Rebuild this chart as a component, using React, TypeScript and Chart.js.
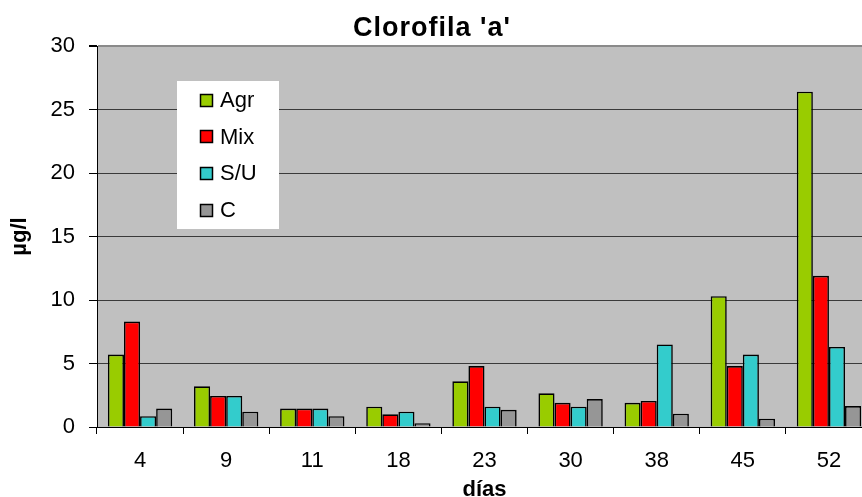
import React, { useEffect, useRef } from "react";
import { Chart, registerables } from "chart.js";

Chart.register(...registerables);

// ---- data ----
const categories = ["4", "9", "11", "18", "23", "30", "38", "45", "52"];
const agr = [5.7, 3.2, 1.45, 1.6, 3.6, 2.65, 1.9, 10.3, 26.4];
const mix = [8.3, 2.45, 1.45, 1.0, 4.8, 1.9, 2.05, 4.8, 11.9];
const su = [0.85, 2.45, 1.45, 1.2, 1.6, 1.6, 6.5, 5.7, 6.3];
const ctrl = [1.45, 1.2, 0.85, 0.3, 1.35, 2.2, 1.05, 0.65, 1.65];
const seriesNames = ["Agr", "Mix", "S/U", "C"];
const seriesColors = ["#99cc00", "#ff0000", "#33cccc", "#969696"];
const yMin = 0;
const yMax = 30;
const yStep = 5;
const chartTitle = "Clorofila 'a'";
const xTitle = "días";
const yTitle = "µg/l";

const FONT = "'Liberation Sans', Arial, Helvetica, sans-serif";

const decorPlugin = {
  id: "decor",
  beforeDraw(chart: any) {
    const { ctx, chartArea: a } = chart;
    ctx.save();
    ctx.fillStyle = "#c0c0c0";
    ctx.fillRect(a.left, a.top, a.right - a.left, a.bottom - a.top);
    ctx.restore();
  },
  afterDraw(chart: any) {
    const { ctx, chartArea: a } = chart;
    ctx.save();
    ctx.fillStyle = "#000";
    // chart title
    ctx.font = `bold 27px ${FONT}`;
    ctx.textAlign = "center";
    ctx.textBaseline = "alphabetic";
    try { (ctx as any).letterSpacing = "1px"; } catch (e) {}
    ctx.fillText(chartTitle, chart.width / 2 - 13, 36);
    try { (ctx as any).letterSpacing = "0px"; } catch (e) {}
    // x title
    ctx.font = `bold 22px ${FONT}`;
    ctx.fillText(xTitle, (a.left + a.right) / 2, 496);
    // y title
    ctx.save();
    ctx.translate(26, (a.top + a.bottom) / 2);
    ctx.rotate(-Math.PI / 2);
    ctx.fillText(yTitle, 0, 0);
    ctx.restore();

    // legend box
    const bx = a.left + 80;
    const by = a.top + 35;
    ctx.fillStyle = "#ffffff";
    ctx.fillRect(bx, by, 102, 148);
    ctx.font = `22px ${FONT}`;
    ctx.textAlign = "left";
    ctx.textBaseline = "middle";
    chart.data.datasets.forEach((ds: any, i: number) => {
      const cy = by + 19 + i * 36.7;
      ctx.fillStyle = ds.backgroundColor;
      ctx.fillRect(bx + 23.5, Math.round(cy - 6.5) + 0.5, 12, 12);
      ctx.strokeStyle = "#000";
      ctx.lineWidth = 1.5;
      ctx.strokeRect(bx + 23.5, Math.round(cy - 6.5) + 0.5, 12, 12);
      ctx.fillStyle = "#000";
      ctx.fillText(ds.label, bx + 43, cy + 1);
    });
    ctx.restore();
  },
};

export default function App() {
  const ref = useRef<HTMLCanvasElement | null>(null);

  useEffect(() => {
    if (!ref.current) return;
    const series = [agr, mix, su, ctrl];
    const chart = new Chart(ref.current, {
      type: "bar",
      data: {
        labels: categories,
        datasets: series.map((d, i) => ({
          label: seriesNames[i],
          data: d,
          backgroundColor: seriesColors[i],
          borderColor: "#000",
          borderWidth: 1.6,
          borderSkipped: "start",
          categoryPercentage: 0.747,
          barPercentage: 1,
        })),
      },
      options: {
        responsive: false,
        animation: false,
        devicePixelRatio: 1,
        layout: { padding: { top: 46, right: 18, bottom: 0, left: 0 } },
        plugins: {
          legend: { display: false },
          title: { display: false },
          tooltip: { enabled: false },
        },
        scales: {
          x: {
            afterFit(scale: any) {
              scale.height = 70;
            },
            grid: {
              display: true,
              drawOnChartArea: false,
              drawTicks: true,
              tickLength: 7,
              color: "#000",
              offset: true,
            },
            border: { display: true, color: "#000", width: 1 },
            ticks: {
              color: "#000",
              font: { family: FONT, size: 22 },
              padding: 14,
              maxRotation: 0,
              autoSkip: false,
            },
          },
          y: {
            min: yMin,
            max: yMax,
            afterFit(scale: any) {
              scale.width = 97;
            },
            grid: {
              color: (c: any) => (c.tick && c.tick.value === yMax ? "#8a8a8a" : "#3a3a3a"),
              lineWidth: (c: any) => (c.tick && c.tick.value === yMax ? 2 : 1),
              tickColor: "#000",
              tickLength: 8,
            },
            border: { display: true, color: "#000", width: 1 },
            ticks: {
              stepSize: yStep,
              color: "#000",
              font: { family: FONT, size: 22 },
              padding: 14,
            },
          },
        },
      },
      plugins: [decorPlugin],
    });
    return () => chart.destroy();
  }, []);

  return (
    <div
      style={{
        position: "fixed",
        left: 0,
        top: 0,
        width: 862,
        height: 497,
        overflow: "hidden",
        background: "#fff",
      }}
    >
      <canvas ref={ref} width={890} height={497} style={{ display: "block" }} />
    </div>
  );
}
